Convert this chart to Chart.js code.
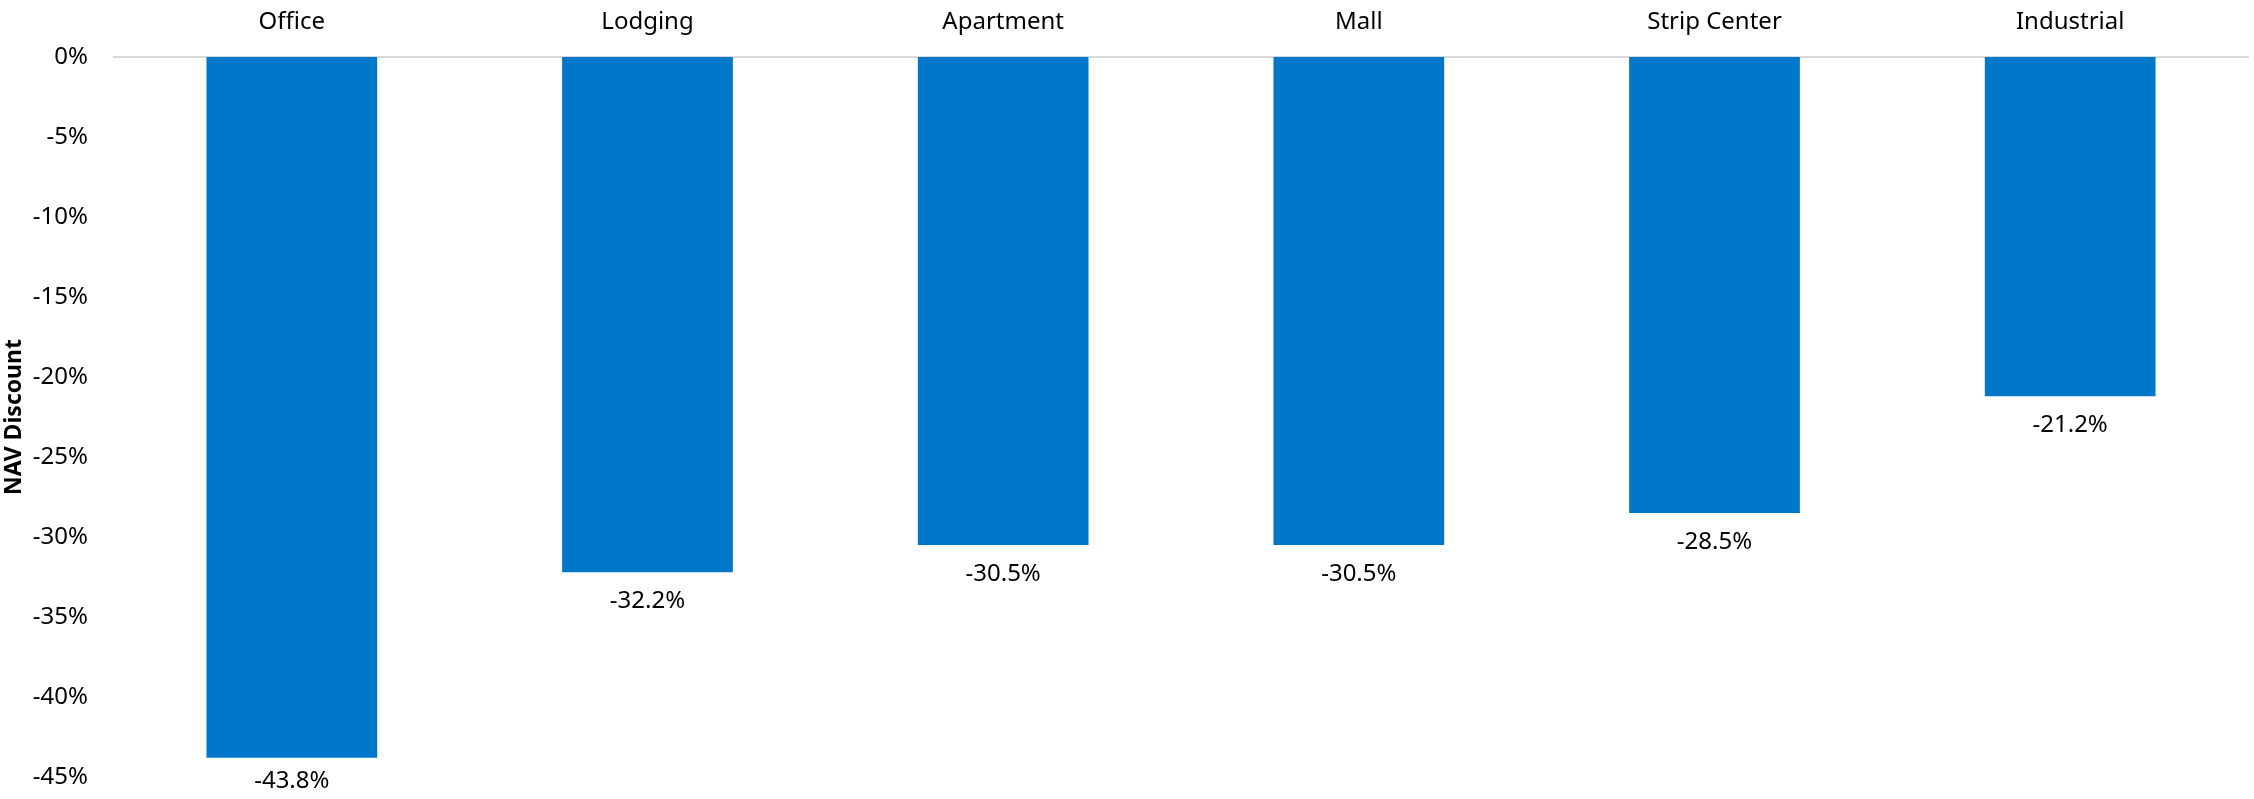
<!DOCTYPE html>
<html>
<head>
<meta charset="utf-8">
<title>NAV Discount by Property Type</title>
<script src="https://cdn.jsdelivr.net/npm/chart.js@4/dist/chart.umd.min.js"></script>
<style>
    html, body { margin: 0; padding: 0; background: #ffffff; }
    #wrap { width: 2254px; height: 799px; }
</style>
</head>
<body>
<div id="wrap"><canvas id="chartDiscount" width="2254" height="799"></canvas></div>
<script>
// property sectors and their discount to NAV (%)
const sectors = ['Office', 'Lodging', 'Apartment', 'Mall', 'Strip Center', 'Industrial'];
const navDiscount = [-43.8, -32.2, -30.5, -30.5, -28.5, -21.2];

const yMin = -45;
const yMax = 0;
const yStep = 5;

const fontFamily = '"Noto Sans", "Open Sans", sans-serif';
const textColor = '#000000';
const barColor = '#0077C8';

// value labels under each bar
const valueLabels = {
    id: 'valueLabels',
    afterDatasetsDraw(chart) {
        const ctx = chart.ctx;
        const meta = chart.getDatasetMeta(0);
        ctx.save();
        ctx.font = '24px ' + fontFamily;
        ctx.fillStyle = textColor;
        ctx.textAlign = 'center';
        ctx.textBaseline = 'middle';
        meta.data.forEach(function (bar, i) {
            let y = bar.y + 29;
            // keep the lowest label inside the canvas
            y = Math.min(y, chart.height - 18);
            ctx.fillText(navDiscount[i].toFixed(1) + '%', bar.x, y);
        });
        ctx.restore();
    }
};

const chart = new Chart(document.getElementById('chartDiscount'), {
    type: 'bar',
    data: {
        labels: sectors,
        datasets: [{
            data: navDiscount,
            backgroundColor: barColor,
            borderWidth: 0,
            categoryPercentage: 1,
            barPercentage: 0.48
        }]
    },
    options: {
        responsive: false,
        devicePixelRatio: 1,
        animation: false,
        layout: {
            padding: { left: 0, right: 6, top: 0, bottom: 22 }
        },
        plugins: {
            legend: { display: false },
            tooltip: { enabled: false }
        },
        scales: {
            x: {
                position: 'top',
                grid: { display: false, drawTicks: false },
                border: { display: true, color: '#d9d9d9', width: 2 },
                ticks: {
                    color: textColor,
                    font: { family: fontFamily, size: 24 },
                    padding: 20,
                    maxRotation: 0
                },
                afterFit: function (scale) { scale.height = 57; }
            },
            y: {
                min: yMin,
                max: yMax,
                grid: { display: false, drawTicks: false },
                border: { display: false },
                ticks: {
                    stepSize: yStep,
                    color: textColor,
                    font: { family: fontFamily, size: 24 },
                    padding: 26,
                    callback: function (v) { return v + '%'; }
                },
                title: {
                    display: true,
                    text: 'NAV Discount',
                    color: textColor,
                    font: { family: fontFamily, size: 23, weight: 'bold' },
                    padding: { top: 1, bottom: 0 }
                },
                afterFit: function (scale) {
                    scale.width = 114;
                    // the -45% label overhang is covered by the layout padding
                    scale.paddingBottom = 0;
                }
            }
        }
    },
    plugins: [valueLabels]
});
</script>
</body>
</html>
